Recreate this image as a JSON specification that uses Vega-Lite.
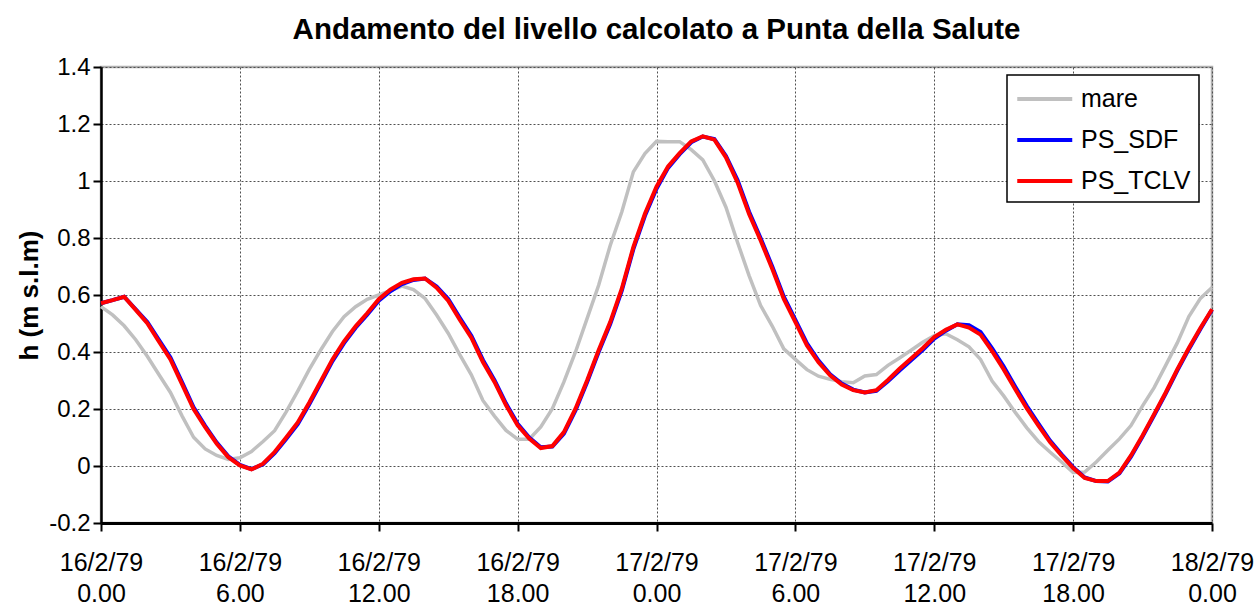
{
  "$schema": "https://vega.github.io/schema/vega-lite/v6.json",
  "width": 1111,
  "height": 456,
  "autosize": {"type": "none"},
  "padding": {"left": 101, "top": 67, "right": 45, "bottom": 84},
  "background": "white",
  "title": {
    "text": "Andamento del livello calcolato a Punta della Salute",
    "font": "Liberation Sans",
    "fontSize": 29.5,
    "fontWeight": "bold",
    "color": "black",
    "anchor": "middle",
    "offset": 10
  },
  "data": {
    "values": [
      {"ore": 0, "mare": 0.559, "PS_SDF": 0.571, "PS_TCLV": 0.571},
      {"ore": 0.5, "mare": 0.53, "PS_SDF": 0.582, "PS_TCLV": 0.582},
      {"ore": 1, "mare": 0.492, "PS_SDF": 0.594, "PS_TCLV": 0.594},
      {"ore": 1.5, "mare": 0.443, "PS_SDF": 0.55, "PS_TCLV": 0.548},
      {"ore": 2, "mare": 0.385, "PS_SDF": 0.505, "PS_TCLV": 0.501},
      {"ore": 2.5, "mare": 0.321, "PS_SDF": 0.443, "PS_TCLV": 0.437},
      {"ore": 3, "mare": 0.258, "PS_SDF": 0.381, "PS_TCLV": 0.374},
      {"ore": 3.5, "mare": 0.176, "PS_SDF": 0.294, "PS_TCLV": 0.287},
      {"ore": 4, "mare": 0.101, "PS_SDF": 0.206, "PS_TCLV": 0.2},
      {"ore": 4.5, "mare": 0.06, "PS_SDF": 0.141, "PS_TCLV": 0.136},
      {"ore": 5, "mare": 0.037, "PS_SDF": 0.082, "PS_TCLV": 0.078},
      {"ore": 5.5, "mare": 0.023, "PS_SDF": 0.034, "PS_TCLV": 0.031},
      {"ore": 6, "mare": 0.029, "PS_SDF": 0.004, "PS_TCLV": 0.002},
      {"ore": 6.5, "mare": 0.051, "PS_SDF": -0.011, "PS_TCLV": -0.012},
      {"ore": 7, "mare": 0.086, "PS_SDF": 0.006, "PS_TCLV": 0.008},
      {"ore": 7.5, "mare": 0.124, "PS_SDF": 0.045, "PS_TCLV": 0.049},
      {"ore": 8, "mare": 0.19, "PS_SDF": 0.095, "PS_TCLV": 0.1},
      {"ore": 8.5, "mare": 0.263, "PS_SDF": 0.147, "PS_TCLV": 0.153},
      {"ore": 9, "mare": 0.339, "PS_SDF": 0.217, "PS_TCLV": 0.223},
      {"ore": 9.5, "mare": 0.408, "PS_SDF": 0.292, "PS_TCLV": 0.298},
      {"ore": 10, "mare": 0.472, "PS_SDF": 0.368, "PS_TCLV": 0.374},
      {"ore": 10.5, "mare": 0.524, "PS_SDF": 0.431, "PS_TCLV": 0.437},
      {"ore": 11, "mare": 0.559, "PS_SDF": 0.485, "PS_TCLV": 0.49},
      {"ore": 11.5, "mare": 0.585, "PS_SDF": 0.531, "PS_TCLV": 0.536},
      {"ore": 12, "mare": 0.6, "PS_SDF": 0.58, "PS_TCLV": 0.585},
      {"ore": 12.5, "mare": 0.615, "PS_SDF": 0.613, "PS_TCLV": 0.619},
      {"ore": 13, "mare": 0.631, "PS_SDF": 0.638, "PS_TCLV": 0.643},
      {"ore": 13.5, "mare": 0.619, "PS_SDF": 0.653, "PS_TCLV": 0.655},
      {"ore": 14, "mare": 0.588, "PS_SDF": 0.658, "PS_TCLV": 0.658},
      {"ore": 14.5, "mare": 0.53, "PS_SDF": 0.63, "PS_TCLV": 0.626},
      {"ore": 15, "mare": 0.466, "PS_SDF": 0.586, "PS_TCLV": 0.58},
      {"ore": 15.5, "mare": 0.391, "PS_SDF": 0.52, "PS_TCLV": 0.513},
      {"ore": 16, "mare": 0.32, "PS_SDF": 0.457, "PS_TCLV": 0.45},
      {"ore": 16.5, "mare": 0.23, "PS_SDF": 0.372, "PS_TCLV": 0.365},
      {"ore": 17, "mare": 0.175, "PS_SDF": 0.301, "PS_TCLV": 0.295},
      {"ore": 17.5, "mare": 0.125, "PS_SDF": 0.219, "PS_TCLV": 0.213},
      {"ore": 18, "mare": 0.094, "PS_SDF": 0.148, "PS_TCLV": 0.143},
      {"ore": 18.5, "mare": 0.094, "PS_SDF": 0.1, "PS_TCLV": 0.096},
      {"ore": 19, "mare": 0.137, "PS_SDF": 0.066, "PS_TCLV": 0.063},
      {"ore": 19.5, "mare": 0.201, "PS_SDF": 0.068, "PS_TCLV": 0.07},
      {"ore": 20, "mare": 0.295, "PS_SDF": 0.114, "PS_TCLV": 0.119},
      {"ore": 20.5, "mare": 0.4, "PS_SDF": 0.195, "PS_TCLV": 0.201},
      {"ore": 21, "mare": 0.517, "PS_SDF": 0.294, "PS_TCLV": 0.3},
      {"ore": 21.5, "mare": 0.634, "PS_SDF": 0.4, "PS_TCLV": 0.406},
      {"ore": 22, "mare": 0.774, "PS_SDF": 0.498, "PS_TCLV": 0.505},
      {"ore": 22.5, "mare": 0.891, "PS_SDF": 0.615, "PS_TCLV": 0.622},
      {"ore": 23, "mare": 1.032, "PS_SDF": 0.761, "PS_TCLV": 0.768},
      {"ore": 23.5, "mare": 1.096, "PS_SDF": 0.878, "PS_TCLV": 0.885},
      {"ore": 24, "mare": 1.139, "PS_SDF": 0.973, "PS_TCLV": 0.98},
      {"ore": 24.5, "mare": 1.138, "PS_SDF": 1.046, "PS_TCLV": 1.051},
      {"ore": 25, "mare": 1.138, "PS_SDF": 1.094, "PS_TCLV": 1.098},
      {"ore": 25.5, "mare": 1.11, "PS_SDF": 1.136, "PS_TCLV": 1.139},
      {"ore": 26, "mare": 1.074, "PS_SDF": 1.156, "PS_TCLV": 1.157},
      {"ore": 26.5, "mare": 1.001, "PS_SDF": 1.147, "PS_TCLV": 1.145},
      {"ore": 27, "mare": 0.908, "PS_SDF": 1.088, "PS_TCLV": 1.083},
      {"ore": 27.5, "mare": 0.785, "PS_SDF": 1.003, "PS_TCLV": 0.995},
      {"ore": 28, "mare": 0.668, "PS_SDF": 0.892, "PS_TCLV": 0.884},
      {"ore": 28.5, "mare": 0.563, "PS_SDF": 0.799, "PS_TCLV": 0.791},
      {"ore": 29, "mare": 0.491, "PS_SDF": 0.7, "PS_TCLV": 0.692},
      {"ore": 29.5, "mare": 0.411, "PS_SDF": 0.594, "PS_TCLV": 0.586},
      {"ore": 30, "mare": 0.374, "PS_SDF": 0.513, "PS_TCLV": 0.505},
      {"ore": 30.5, "mare": 0.338, "PS_SDF": 0.43, "PS_TCLV": 0.423},
      {"ore": 31, "mare": 0.315, "PS_SDF": 0.37, "PS_TCLV": 0.364},
      {"ore": 31.5, "mare": 0.304, "PS_SDF": 0.322, "PS_TCLV": 0.318},
      {"ore": 32, "mare": 0.296, "PS_SDF": 0.289, "PS_TCLV": 0.286},
      {"ore": 32.5, "mare": 0.292, "PS_SDF": 0.268, "PS_TCLV": 0.266},
      {"ore": 33, "mare": 0.316, "PS_SDF": 0.258, "PS_TCLV": 0.258},
      {"ore": 33.5, "mare": 0.321, "PS_SDF": 0.264, "PS_TCLV": 0.266},
      {"ore": 34, "mare": 0.353, "PS_SDF": 0.297, "PS_TCLV": 0.302},
      {"ore": 34.5, "mare": 0.379, "PS_SDF": 0.335, "PS_TCLV": 0.341},
      {"ore": 35, "mare": 0.406, "PS_SDF": 0.371, "PS_TCLV": 0.377},
      {"ore": 35.5, "mare": 0.434, "PS_SDF": 0.407, "PS_TCLV": 0.413},
      {"ore": 36, "mare": 0.457, "PS_SDF": 0.447, "PS_TCLV": 0.452},
      {"ore": 36.5, "mare": 0.464, "PS_SDF": 0.475, "PS_TCLV": 0.478},
      {"ore": 37, "mare": 0.443, "PS_SDF": 0.497, "PS_TCLV": 0.497},
      {"ore": 37.5, "mare": 0.418, "PS_SDF": 0.494, "PS_TCLV": 0.486},
      {"ore": 38, "mare": 0.374, "PS_SDF": 0.47, "PS_TCLV": 0.461},
      {"ore": 38.5, "mare": 0.298, "PS_SDF": 0.413, "PS_TCLV": 0.403},
      {"ore": 39, "mare": 0.246, "PS_SDF": 0.349, "PS_TCLV": 0.339},
      {"ore": 39.5, "mare": 0.188, "PS_SDF": 0.278, "PS_TCLV": 0.269},
      {"ore": 40, "mare": 0.134, "PS_SDF": 0.21, "PS_TCLV": 0.202},
      {"ore": 40.5, "mare": 0.086, "PS_SDF": 0.149, "PS_TCLV": 0.142},
      {"ore": 41, "mare": 0.049, "PS_SDF": 0.089, "PS_TCLV": 0.084},
      {"ore": 41.5, "mare": 0.014, "PS_SDF": 0.041, "PS_TCLV": 0.037},
      {"ore": 42, "mare": -0.023, "PS_SDF": -0.004, "PS_TCLV": -0.007},
      {"ore": 42.5, "mare": -0.021, "PS_SDF": -0.04, "PS_TCLV": -0.042},
      {"ore": 43, "mare": 0.014, "PS_SDF": -0.053, "PS_TCLV": -0.053},
      {"ore": 43.5, "mare": 0.055, "PS_SDF": -0.054, "PS_TCLV": -0.053},
      {"ore": 44, "mare": 0.095, "PS_SDF": -0.026, "PS_TCLV": -0.023},
      {"ore": 44.5, "mare": 0.142, "PS_SDF": 0.033, "PS_TCLV": 0.037},
      {"ore": 45, "mare": 0.211, "PS_SDF": 0.103, "PS_TCLV": 0.107},
      {"ore": 45.5, "mare": 0.275, "PS_SDF": 0.178, "PS_TCLV": 0.182},
      {"ore": 46, "mare": 0.353, "PS_SDF": 0.254, "PS_TCLV": 0.258},
      {"ore": 46.5, "mare": 0.432, "PS_SDF": 0.335, "PS_TCLV": 0.339},
      {"ore": 47, "mare": 0.524, "PS_SDF": 0.41, "PS_TCLV": 0.414},
      {"ore": 47.5, "mare": 0.588, "PS_SDF": 0.481, "PS_TCLV": 0.484},
      {"ore": 48, "mare": 0.626, "PS_SDF": 0.548, "PS_TCLV": 0.55}
    ]
  },
  "transform": [
    {"fold": ["mare", "PS_SDF", "PS_TCLV"], "as": ["serie", "livello"]}
  ],
  "encoding": {
    "x": {
      "field": "ore",
      "type": "quantitative",
      "scale": {"domain": [0, 48], "nice": false, "zero": false},
      "axis": {
        "title": null,
        "values": [0, 6, 12, 18, 24, 30, 36, 42, 48],
        "labelExpr": "[datum.value < 24 ? '16/2/79' : (datum.value < 48 ? '17/2/79' : '18/2/79'), format(datum.value % 24, '.2f')]",
        "labelFont": "Liberation Sans",
        "labelFontSize": 25,
        "labelColor": "black",
        "labelLineHeight": 31,
        "labelPadding": 19,
        "labelOverlap": false,
        "labelFlush": false,
        "labelBound": false,
        "domainColor": "black",
        "domainWidth": 3,
        "tickColor": "black",
        "tickWidth": 2,
        "tickSize": 8,
        "grid": true,
        "gridColor": "#505050",
        "gridDash": [2, 2],
        "gridWidth": 1
      }
    },
    "y": {
      "field": "livello",
      "type": "quantitative",
      "scale": {"domain": [-0.2, 1.4], "nice": false, "zero": false},
      "axis": {
        "title": "h (m s.l.m)",
        "titleFont": "Liberation Sans",
        "titleFontSize": 26,
        "titleFontWeight": "bold",
        "titleColor": "black",
        "titlePadding": 6,
        "values": [-0.2, 0, 0.2, 0.4, 0.6, 0.8, 1, 1.2, 1.4],
        "labelExpr": "datum.value < 0 ? '-' + format(-datum.value, '~g') : format(datum.value, '~g')",
        "labelFont": "Liberation Sans",
        "labelFontSize": 24,
        "labelColor": "black",
        "labelPadding": 3,
        "labelOverlap": false,
        "labelBound": false,
        "domainColor": "black",
        "domainWidth": 2.5,
        "tickColor": "black",
        "tickWidth": 2,
        "tickSize": 8,
        "grid": true,
        "gridColor": "#505050",
        "gridDash": [2, 2],
        "gridWidth": 1
      }
    },
    "color": {
      "field": "serie",
      "type": "nominal",
      "scale": {
        "domain": ["mare", "PS_SDF", "PS_TCLV"],
        "range": ["#c0c0c0", "#0000ff", "#ff0000"]
      },
      "legend": {
        "title": null,
        "orient": "none",
        "legendX": 906,
        "legendY": 8,
        "fillColor": "white",
        "strokeColor": "black",
        "padding": 8,
        "symbolType": "M-1,0H3",
        "symbolSize": 756,
        "symbolStrokeWidth": 4,
        "labelFont": "Liberation Sans",
        "labelFontSize": 25,
        "labelColor": "black",
        "labelOffset": 34,
        "rowPadding": 12,
        "encode": {
          "legend": {"update": {"strokeWidth": {"value": 1.5}}}
        }
      }
    }
  },
  "layer": [
    {
      "transform": [{"filter": "datum.serie === 'mare'"}],
      "mark": {"type": "line", "strokeWidth": 3.5}
    },
    {
      "transform": [{"filter": "datum.serie === 'PS_SDF'"}],
      "mark": {"type": "line", "strokeWidth": 4}
    },
    {
      "transform": [{"filter": "datum.serie === 'PS_TCLV'"}],
      "mark": {"type": "line", "strokeWidth": 4}
    }
  ],
  "config": {
    "view": {"stroke": "#b0b0b0", "strokeWidth": 2.5}
  }
}
